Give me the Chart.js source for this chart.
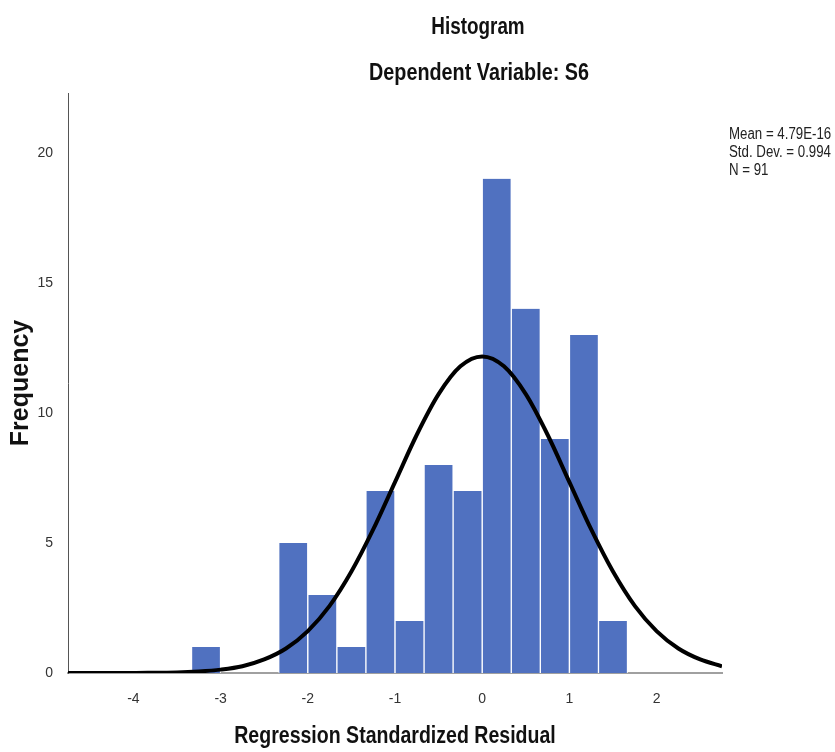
<!DOCTYPE html>
<html>
<head>
<meta charset="utf-8">
<script src="https://cdn.jsdelivr.net/npm/chart.js@4.4.1/dist/chart.umd.min.js"></script>
<style>
  html, body { margin: 0; padding: 0; background: #fff; }
  #wrap { width: 835px; height: 752px; position: relative; }
</style>
</head>
<body>
<div id="wrap"><canvas id="c"></canvas></div>
<script>
// ---- data ----
const binCenters = [-3.167, -2.167, -1.833, -1.5, -1.167, -0.833, -0.5, -0.167, 0.167, 0.5, 0.833, 1.167, 1.5];
const frequencies = [1, 5, 3, 1, 7, 2, 8, 7, 19, 14, 9, 13, 2];
const curveX = [-4.75, -4.5, -4.25, -4, -3.75, -3.5, -3.25, -3, -2.75, -2.5, -2.25, -2, -1.75, -1.5, -1.25, -1, -0.75, -0.5, -0.25, 0, 0.25, 0.5, 0.75, 1, 1.25, 1.5, 1.75, 2, 2.25, 2.5, 2.75];
const curveY = [0.00, 0.00, 0.00, 0.00, 0.01, 0.02, 0.06, 0.13, 0.26, 0.52, 0.94, 1.61, 2.58, 3.90, 5.52, 7.34, 9.16, 10.72, 11.79, 12.17, 11.79, 10.72, 9.16, 7.34, 5.52, 3.90, 2.58, 1.61, 0.94, 0.52, 0.26];
const xTicks = [-4, -3, -2, -1, 0, 1, 2];
const yTicks = [0, 5, 10, 15, 20];
const titleText = "Histogram";
const subtitleText = "Dependent Variable: S6";
const xTitle = "Regression Standardized Residual";
const yTitle = "Frequency";
const statsLines = ["Mean = 4.79E-16", "Std. Dev. = 0.994", "N = 91"];

const FONT = "'Liberation Sans', Arial, sans-serif";

function squeezedText(ctx, text, x, y, align, sq) {
  ctx.save();
  ctx.translate(x, y);
  ctx.scale(sq, 1);
  ctx.textAlign = align;
  ctx.fillText(text, 0, 0);
  ctx.restore();
}

const textPlugin = {
  id: 'texts',
  afterDraw(chart) {
    const ctx = chart.ctx;
    const xs = chart.scales.x;
    ctx.save();
    ctx.fillStyle = '#111';
    ctx.textBaseline = 'middle';
    ctx.font = "bold 23px " + FONT;
    squeezedText(ctx, titleText, 478, 28, 'center', 0.82);
    squeezedText(ctx, subtitleText, 479, 74, 'center', 0.86);
    squeezedText(ctx, xTitle, (xs.left + xs.right) / 2, 737, 'center', 0.85);
    ctx.font = "16px " + FONT;
    ctx.fillStyle = '#222';
    statsLines.forEach((t, i) => squeezedText(ctx, t, 729, 135 + i * 18, 'left', 0.83));
    ctx.restore();
  }
};

new Chart(document.getElementById('c'), {
  type: 'bar',
  data: {
    datasets: [
      {
        type: 'line',
        data: curveX.map((x, i) => ({ x: x, y: curveY[i] })),
        borderColor: '#000',
        borderWidth: 4,
        pointRadius: 0,
        tension: 0.4,
        cubicInterpolationMode: 'monotone',
        fill: false,
        order: 0
      },
      {
        type: 'bar',
        data: binCenters.map((x, i) => ({ x: x, y: frequencies[i] })),
        backgroundColor: '#5071c0',
        borderColor: '#ffffff',
        borderWidth: { left: 1, right: 1, top: 0, bottom: 0 },
        borderSkipped: false,
        categoryPercentage: 1.0,
        barPercentage: 1.0,
        order: 1
      }
    ]
  },
  options: {
    responsive: true,
    maintainAspectRatio: false,
    animation: false,
    layout: { padding: { left: 0, right: 113, top: 93, bottom: 0 } },
    plugins: { legend: { display: false }, tooltip: { enabled: false }, title: { display: false } },
    scales: {
      x: {
        type: 'linear',
        offset: false,
        min: -4.75,
        max: 2.75,
        afterBuildTicks: (s) => { s.ticks = xTicks.map(v => ({ value: v })); },
        afterFit: (s) => { s.height = 79; },
        grid: { display: false },
        border: { display: true, color: '#a0a0a0', width: 2 },
        ticks: { padding: 10, color: '#333', font: { family: FONT, size: 14 }, maxRotation: 0, autoSkip: false },
        title: { display: false }
      },
      y: {
        type: 'linear',
        min: 0,
        max: 22.3,
        afterBuildTicks: (s) => { s.ticks = yTicks.map(v => ({ value: v })); },
        afterFit: (s) => { s.width = 68; },
        grid: { display: false },
        border: { display: true, color: '#555', width: 1 },
        ticks: { padding: 7, color: '#333', font: { family: FONT, size: 14 } },
        title: { display: true, text: yTitle, color: '#111', font: { family: FONT, size: 25, weight: 'bold' }, padding: { top: 6, bottom: 0 } }
      }
    }
  },
  plugins: [textPlugin]
});
</script>
</body>
</html>
